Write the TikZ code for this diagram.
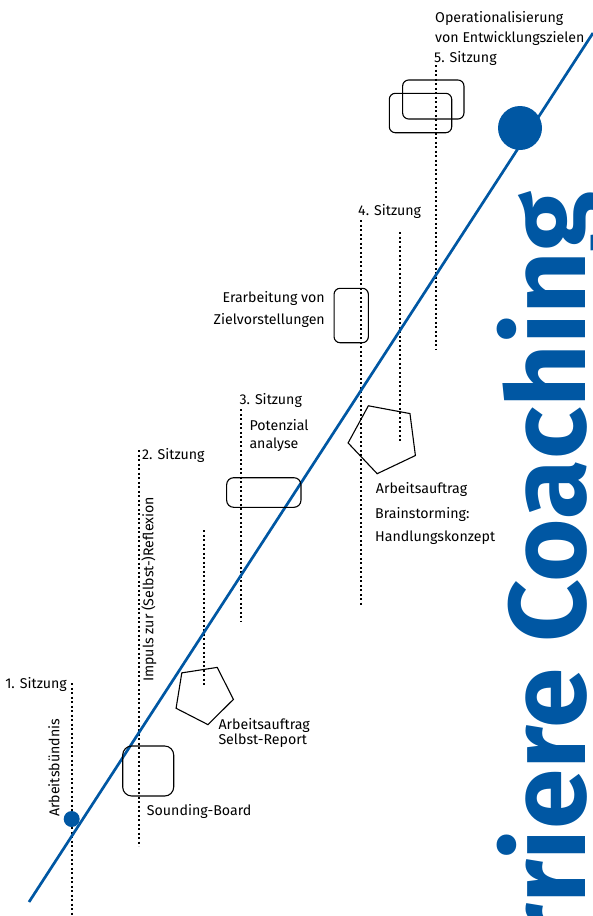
\documentclass[tikz,border=0pt]{standalone}
\usepackage{fontspec}
\setmainfont{Fira Sans}
\usepackage{xcolor}
\definecolor{kcblue}{RGB}{0,87,163}
\usetikzlibrary{shapes.geometric}

\begin{document}
\begin{tikzpicture}[x=1pt, y=-1pt, font=\fontsize{14.2}{18}\selectfont,
	dotline/.style={line width=2.1pt, dash pattern=on 2.1pt off 2.4pt},
	weg/.style={draw=kcblue, line width=2.7pt},
	box/.style={draw, line width=1.1pt, inner sep=0pt},
	fuenfeck/.style={draw, line width=1.1pt, regular polygon, regular polygon sides=5, inner sep=0pt, minimum size=#1},
	punkt/.style={fill=kcblue, circle, inner sep=0pt, minimum size=#1},
	lbl/.style={inner sep=0pt, align=left}]
	\useasboundingbox (0,0) rectangle (593,916);
	\clip (0,0) rectangle (593,916);
	\node[rotate=90, anchor=base east, inner sep=0pt, text=kcblue, font=\fontsize{109}{109}\selectfont\bfseries] (titel) at (585,191) {Karriere Coaching};
	\foreach \x/\ya/\yb in {72/683/916, 139/450/846, 204/530/686, 241/409/622, 361/220/605, 400/232/441, 436/65/350}
		\draw[dotline] (\x,\ya) -- (\x,\yb);
	\coordinate (wegstart) at (29,902);
	\coordinate (wegende) at (593,33);
	\draw[weg] (wegstart) -- (wegende);
	\node[punkt=16pt] (start) at (71.7,819) {};
	\node[punkt=44pt] (ziel) at (520,128) {};
	\node[lbl, anchor=base east] (s1) at (67,688) {1. Sitzung};
	\node[lbl, rotate=90, anchor=base west] (buendnis) at (59.3,817) {Arbeitsbündnis};
	\node[lbl, anchor=base west] (s2) at (142,459) {2. Sitzung};
	\node[lbl, rotate=90, anchor=base west] (impuls) at (153.3,682) {Impuls zur (Selbst-)Reflexion};
	\node[box, rounded corners=9pt, minimum width=51pt, minimum height=50pt] (sounding) at (148.2,771) {};
	\node[lbl, anchor=base west] (soundinglbl) at (146.7,815) {Sounding-Board};
	\node[fuenfeck=61pt, rotate=-27.2] (report) at (203.3,694.5) {};
	\node[lbl, anchor=base west, font=\fontsize{14.2}{14.5}\selectfont] (reportlbl) at (218.3,744) {Arbeitsauftrag\\Selbst-Report};
	\node[lbl, anchor=base west] (s3) at (239.3,404) {3. Sitzung};
	\node[lbl, anchor=base west] (potlbl) at (249.3,448) {Potenzial\\analyse};
	\node[box, rounded corners=7pt, minimum width=74.3pt, minimum height=29.6pt] (potenzial) at (263.8,492.5) {};
	\node[box, rounded corners=6pt, minimum width=34.3pt, minimum height=54.4pt] (zielvorst) at (351.2,315.5) {};
	\node[lbl, anchor=base east, align=right, font=\fontsize{14.2}{22}\selectfont] (zielvorstlbl) at (325,324) {Erarbeitung von\\Zielvorstellungen};
	\node[lbl, anchor=base west] (s4) at (358,215) {4. Sitzung};
	\node[fuenfeck=72pt, rotate=25.4] (brain) at (383.8,438.3) {};
	\node[lbl, anchor=base west] (brainauftrag) at (375.7,493.3) {Arbeitsauftrag};
	\node[lbl, anchor=base west, font=\fontsize{14.2}{23.5}\selectfont] (brainlbl) at (375,541.7) {Brainstorming:\\Handlungskonzept};
	\node[box, rounded corners=6pt, minimum width=61.3pt, minimum height=39pt] (opziel1) at (433.3,99.5) {};
	\node[box, rounded corners=6pt, minimum width=62.4pt, minimum height=39.4pt] (opziel2) at (420.5,113) {};
	\node[lbl, anchor=base west, font=\fontsize{14.2}{20.5}\selectfont] (oplbl) at (435,42.5) {Operationalisierung\\von Entwicklungszielen};
	\node[lbl, anchor=base west] (s5) at (434,62) {5. Sitzung};
\end{tikzpicture}
\end{document}
